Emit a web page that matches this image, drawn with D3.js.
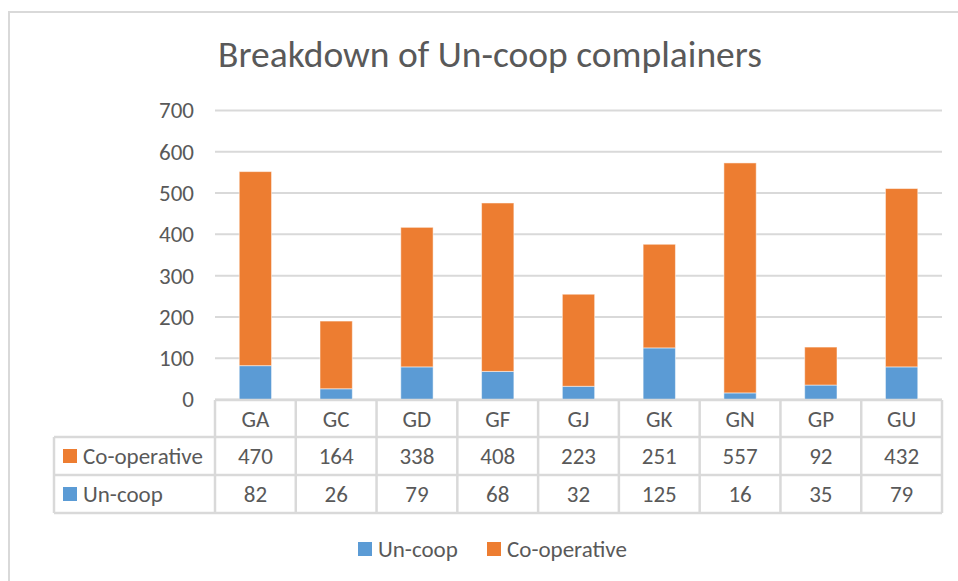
<!DOCTYPE html>
<html><head><meta charset="utf-8">
<script src="https://cdn.jsdelivr.net/npm/d3@7"></script>
<style>
html,body{margin:0;padding:0;background:#fff;}
svg{display:block;}
text{font-family:Carlito,Lato,"Open Sans",sans-serif;fill:#595959;}
</style></head>
<body>
<svg id="chart" width="958" height="581"></svg>
<script>
const title = "Breakdown of Un-coop complainers";
const categories = ["GA","GC","GD","GF","GJ","GK","GN","GP","GU"];
const uncoop = [82,26,79,68,32,125,16,35,79];
const cooperative = [470,164,338,408,223,251,557,92,432];
const yTicks = [0,100,200,300,400,500,600,700];
const seriesNames = ["Un-coop","Co-operative"];
const colors = {"Un-coop":"#5B9BD5","Co-operative":"#ED7D31"};

(function(){
const svg = d3.select("#chart");
const grid = "#d9d9d9";
const fs = "23px";

svg.append("rect").attr("x",9).attr("y",12).attr("width",1000).attr("height",620)
  .attr("fill","#fff").attr("stroke",grid).attr("stroke-width",2);

svg.append("text").attr("x",490).attr("y",67).attr("text-anchor","middle")
  .style("font-size","37.5px").text(title);

const pLeft=215, pRight=942, pTop=110.5, pBottom=399.5;
const x = d3.scaleBand().domain(categories).range([pLeft,pRight]).paddingInner(0.6).paddingOuter(0.3);
const y = d3.scaleLinear().domain([0,700]).range([pBottom,pTop]);

svg.append("g").selectAll("line").data(yTicks).join("line")
  .attr("x1",pLeft).attr("x2",pRight).attr("y1",d=>y(d)).attr("y2",d=>y(d))
  .attr("stroke",grid).attr("stroke-width",2);

const yAxis = d3.axisLeft(y).tickValues(yTicks).tickSize(0).tickPadding(0);
const ya = svg.append("g").attr("transform",`translate(194,0)`).call(yAxis);
ya.select(".domain").remove();
ya.attr("font-family",null).attr("font-size",null);
ya.selectAll("text").style("font-size",fs).attr("fill","#595959");

const rows = categories.map((c,i)=>({cat:c,"Un-coop":uncoop[i],"Co-operative":cooperative[i]}));
const stack = d3.stack().keys(seriesNames)(rows);
svg.append("g").selectAll("g").data(stack).join("g")
  .attr("fill",d=>colors[d.key])
  .selectAll("rect").data(d=>d).join("rect")
  .attr("x",d=>x(d.data.cat)).attr("width",x.bandwidth())
  .attr("y",d=>y(d[1])).attr("height",d=>y(d[0])-y(d[1]))
  .attr("stroke","#fff").attr("stroke-opacity",0.5).attr("stroke-width",1);

const rowTop=[400,437,475], rowBot=513, tableLeft=54;
const step = x.step();
const colEdges = d3.range(categories.length+1).map(i=>pLeft + i*step);
const tg = svg.append("g");
tg.append("line").attr("x1",pLeft).attr("x2",pRight).attr("y1",rowTop[0]).attr("y2",rowTop[0]).attr("stroke",grid).attr("stroke-width",2.5);
[rowTop[1],rowTop[2],rowBot].forEach(yy=>{
  tg.append("line").attr("x1",tableLeft).attr("x2",pRight).attr("y1",yy).attr("y2",yy).attr("stroke",grid).attr("stroke-width",2.5);
});
colEdges.forEach(xx=>{
  tg.append("line").attr("x1",xx).attr("x2",xx).attr("y1",rowTop[0]).attr("y2",rowBot).attr("stroke",grid).attr("stroke-width",2.5);
});
tg.append("line").attr("x1",tableLeft).attr("x2",tableLeft).attr("y1",rowTop[1]).attr("y2",rowBot).attr("stroke",grid).attr("stroke-width",2.5);

tg.selectAll("text.cat").data(categories).join("text").attr("class","cat")
  .attr("x",d=>x(d)+x.bandwidth()/2).attr("y",(rowTop[0]+rowTop[1])/2+8)
  .attr("text-anchor","middle").style("font-size",fs).text(d=>d);

const tableRows = [{name:"Co-operative",vals:cooperative},{name:"Un-coop",vals:uncoop}];
tableRows.forEach((r,ri)=>{
  const cy = (rowTop[ri+1] + (ri===0?rowTop[2]:rowBot))/2;
  tg.append("rect").attr("x",63).attr("y",cy-7).attr("width",14).attr("height",14).attr("fill",colors[r.name]);
  tg.append("text").attr("x",83).attr("y",cy+8).style("font-size",fs).text(r.name);
  tg.selectAll(null).data(r.vals).join("text")
    .attr("x",(d,i)=>x(categories[i])+x.bandwidth()/2).attr("y",cy+8)
    .attr("text-anchor","middle").style("font-size",fs).text(d=>d);
});

const legend = [{name:"Un-coop",x:358},{name:"Co-operative",x:487}];
const lg = svg.append("g");
legend.forEach(l=>{
  lg.append("rect").attr("x",l.x).attr("y",542).attr("width",14).attr("height",14).attr("fill",colors[l.name]);
  lg.append("text").attr("x",l.x+20).attr("y",557).style("font-size",fs).text(l.name);
});
})();
</script>
</body></html>
